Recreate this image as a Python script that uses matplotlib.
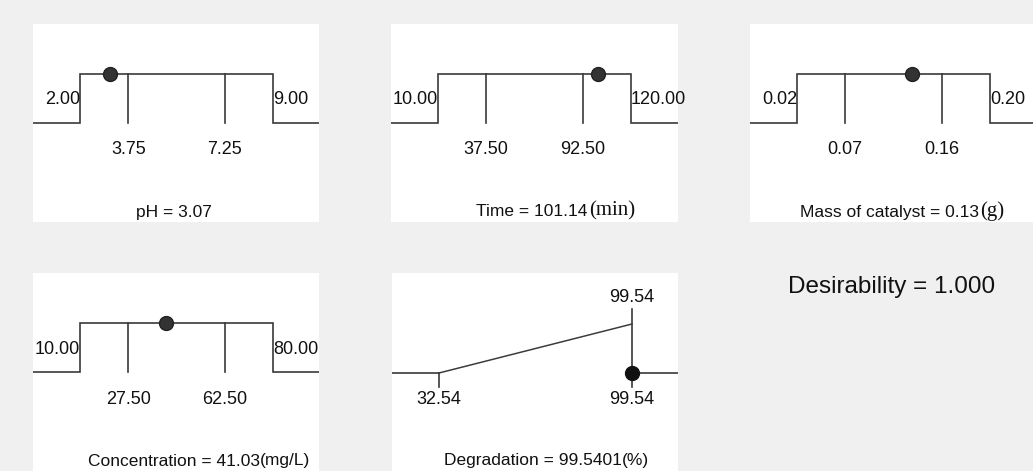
import matplotlib
matplotlib.use('Agg')
import matplotlib.pyplot as plt

plt.rcParams['font.family'] = ['Liberation Sans', 'DejaVu Sans']

# factor settings (low, high, two inner ticks, current value)
factor_names = ['pH', 'Time', 'Mass of catalyst', 'Concentration']
factor_units = ['', '(min)', '(g)', '(mg/L)']
factor_low = [2.0, 10.0, 0.02, 10.0]
factor_high = [9.0, 120.0, 0.20, 80.0]
factor_ticks = [[3.75, 7.25], [37.5, 92.5], [0.065, 0.155], [27.5, 62.5]]
factor_low_lbl = ['2.00', '10.00', '0.02', '10.00']
factor_high_lbl = ['9.00', '120.00', '0.20', '80.00']
factor_tick_lbl = [['3.75', '7.25'], ['37.50', '92.50'], ['0.07', '0.16'], ['27.50', '62.50']]
factor_value = [3.07, 101.14, 0.127, 41.03]
factor_value_lbl = ['3.07', '101.14', '0.13', '41.03']

# response
resp_name = 'Degradation'
resp_unit = '(%)'
resp_low = 32.54
resp_high = 99.54
resp_value = 99.5401
desirability = 1.000

W, H = 1033, 471
fig = plt.figure(figsize=(W / 100, H / 100), dpi=100)
fig.patch.set_facecolor('#f0f0f0')

LC = '#3a3a3a'
TC = '#111111'
LW = 1.2
FS = 13

# panel rects in pixels: left, top, width, height
rects = [(33, 24, 286, 198), (391, 24, 287, 198), (750, 24, 283, 198),
         (33, 273, 286, 198)]
resp_rect = (392, 273, 286, 198)
TOP, BOT = 50, 99
SIDE_Y, TICK_Y, TITLE_Y = 76, 126, 188


def make_ax(r, lo, hi):
    l, t, w, h = r
    ax = fig.add_axes([l / W, 1 - (t + h) / H, w / W, h / H])
    ax.set_facecolor('white')
    span = (hi - lo) / 193.0
    ax.set_xlim(lo - 47 * span, lo + (w - 47) * span)
    ax.set_ylim(h, 0)
    ax.set_xticks([])
    ax.set_yticks([])
    for s in ax.spines.values():
        s.set_visible(False)
    return ax


def title(ax, base, unit, serif):
    x0, x1 = ax.get_xlim()
    t = ax.text((x0 + x1) / 2 - 2.5 * (x1 - x0) / 286, TITLE_Y, base,
                ha='center', va='center', fontsize=FS - 0.5, color=TC)
    if unit:
        if serif:
            ax.annotate(unit, xy=(1, 0), xycoords=t, xytext=(1, -1),
                        textcoords='offset points', ha='left', va='bottom',
                        fontsize=FS + 2, family='Liberation Serif', color=TC)
        else:
            ax.annotate(unit, xy=(1, 0), xycoords=t, ha='left', va='bottom',
                        fontsize=FS - 0.5, color=TC)


for i in range(4):
    lo, hi = factor_low[i], factor_high[i]
    ax = make_ax(rects[i], lo, hi)
    x0, x1 = ax.get_xlim()
    ax.plot([x0, lo, lo, hi, hi, x1], [BOT, BOT, TOP, TOP, BOT, BOT],
            color=LC, lw=LW, solid_joinstyle='miter')
    for tv, tl in zip(factor_ticks[i], factor_tick_lbl[i]):
        ax.plot([tv, tv], [TOP, BOT], color=LC, lw=LW)
        ax.text(tv, TICK_Y, tl, ha='center', va='center', fontsize=FS, color=TC)
    ax.text(lo, SIDE_Y, factor_low_lbl[i], ha='right', va='center', fontsize=FS, color=TC)
    ax.text(hi, SIDE_Y, factor_high_lbl[i], ha='left', va='center', fontsize=FS, color=TC)
    ax.plot([factor_value[i]], [TOP], 'o', ms=10, color='#333333', mec='#222222', zorder=5)
    title(ax, f'{factor_names[i]} = {factor_value_lbl[i]}', factor_units[i],
          serif=factor_units[i] in ('(min)', '(g)'))

# response panel
ax = make_ax(resp_rect, resp_low, resp_high)
x0, x1 = ax.get_xlim()
ax.plot([x0, resp_low], [BOT + 1, BOT + 1], color=LC, lw=LW)
ax.plot([resp_low, resp_high], [BOT + 1, TOP + 1], color=LC, lw=LW * 0.9)
ax.plot([resp_high, x1], [BOT + 1, BOT + 1], color=LC, lw=LW)
ax.plot([resp_low, resp_low], [BOT + 1, BOT + 15], color=LC, lw=LW)
ax.plot([resp_high, resp_high], [36, BOT + 15], color=LC, lw=LW)
ax.plot([resp_value], [BOT + 1], 'o', ms=10, color='#111111', zorder=5)
ax.text(resp_high, 25, f'{resp_high:.2f}', ha='center', va='center', fontsize=FS, color=TC)
ax.text(resp_low, TICK_Y, f'{resp_low:.2f}', ha='center', va='center', fontsize=FS, color=TC)
ax.text(resp_high, TICK_Y, f'{resp_high:.2f}', ha='center', va='center', fontsize=FS, color=TC)
title(ax, f'{resp_name} = {resp_value:.4f}', resp_unit, serif=False)

fig.text(892 / W, 1 - 287 / H, f'Desirability = {desirability:.3f}',
         ha='center', va='center', fontsize=17.5, color=TC)

fig.savefig('out.png', dpi=100, facecolor=fig.get_facecolor())
